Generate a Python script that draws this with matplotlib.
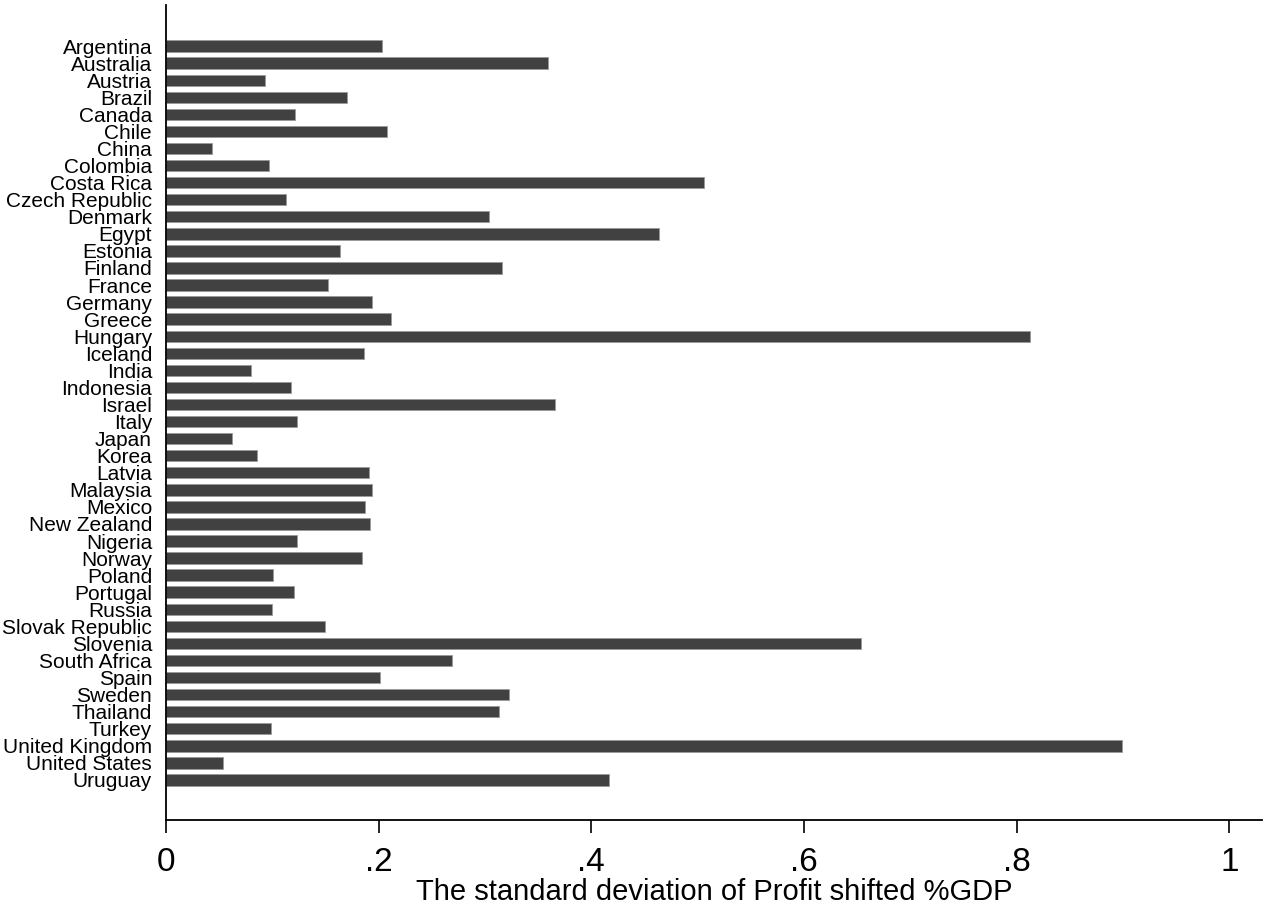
import matplotlib
matplotlib.use('Agg')
import matplotlib.pyplot as plt
from matplotlib import font_manager
import numpy as np

# Country labels and std dev of profit shifted (%GDP)
countries = ['Argentina', 'Australia', 'Austria', 'Brazil', 'Canada', 'Chile', 'China',
             'Colombia', 'Costa Rica', 'Czech Republic', 'Denmark', 'Egypt', 'Estonia',
             'Finland', 'France', 'Germany', 'Greece', 'Hungary', 'Iceland', 'India',
             'Indonesia', 'Israel', 'Italy', 'Japan', 'Korea', 'Latvia', 'Malaysia',
             'Mexico', 'New Zealand', 'Nigeria', 'Norway', 'Poland', 'Portugal', 'Russia',
             'Slovak Republic', 'Slovenia', 'South Africa', 'Spain', 'Sweden', 'Thailand',
             'Turkey', 'United Kingdom', 'United States', 'Uruguay']
sd_values = [0.203, 0.359, 0.093, 0.170, 0.121, 0.208, 0.043,
             0.097, 0.506, 0.113, 0.304, 0.464, 0.164,
             0.316, 0.152, 0.194, 0.212, 0.813, 0.186, 0.080,
             0.118, 0.366, 0.123, 0.062, 0.086, 0.191, 0.194,
             0.187, 0.192, 0.123, 0.184, 0.101, 0.120, 0.100,
             0.150, 0.654, 0.269, 0.201, 0.323, 0.313,
             0.099, 0.899, 0.054, 0.417]
x_ticks = [0, 0.2, 0.4, 0.6, 0.8, 1.0]
x_ticklabels = ['0', '.2', '.4', '.6', '.8', '1']

# Pick a narrow font if available (Stata output looks condensed)
names = {f.name for f in font_manager.fontManager.ttflist}
font = 'Liberation Sans Narrow' if 'Liberation Sans Narrow' in names else 'Liberation Sans'
plt.rcParams['font.family'] = [font, 'DejaVu Sans']

fig = plt.figure(figsize=(12.72, 9.07), dpi=100)
ax = fig.add_axes([0.1305, 0.0959, 0.9920 - 0.1305, 0.9945 - 0.0959])

pos = np.arange(len(countries))
ax.barh(pos, sd_values, height=0.67, color='#414141', edgecolor='#9a9a9a', linewidth=0.6)

ax.set_ylim(len(countries) - 1 + 2.35, -2.41)
ax.set_xlim(0, 1.0306)
ax.set_yticks(pos)
ax.set_yticklabels(countries, fontsize=15)
ax.set_xticks(x_ticks)
ax.set_xticklabels(x_ticklabels, fontsize=24)
ax.tick_params(axis='y', length=0, pad=10)
ax.tick_params(axis='x', length=9.5, width=1.2, pad=10)

ax.spines['top'].set_visible(False)
ax.spines['right'].set_visible(False)
ax.spines['left'].set_linewidth(1.3)
ax.spines['bottom'].set_linewidth(1.3)

ax.set_xlabel('The standard deviation of Profit shifted %GDP', fontsize=21, labelpad=0)

fig.savefig('out.png', dpi=100)
plt.close(fig)
